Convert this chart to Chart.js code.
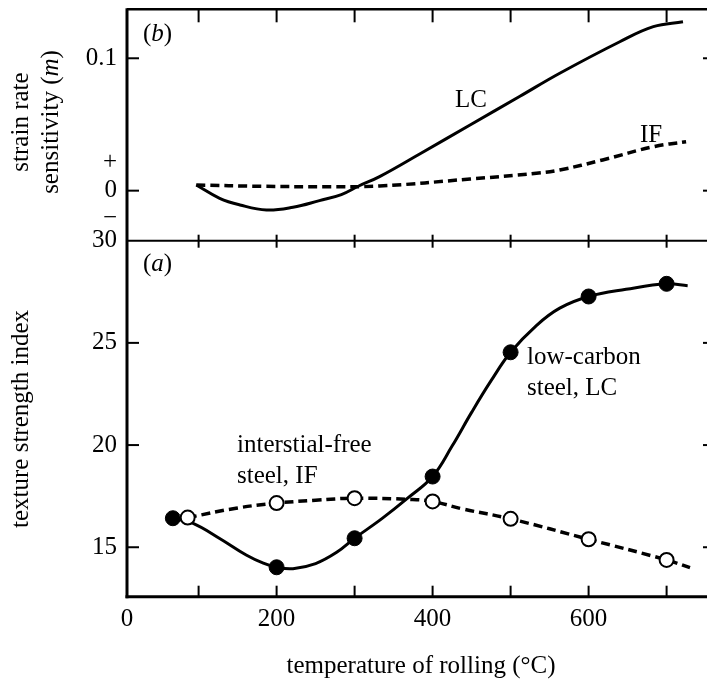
<!DOCTYPE html>
<html>
<head>
<meta charset="utf-8">
<script src="https://cdn.jsdelivr.net/npm/chart.js@4"></script>
<style>
html,body{margin:0;padding:0;background:#fff;}
#wrap{width:707px;height:683px;position:relative;}
canvas{display:block;}
</style>
</head>
<body>
<div id="wrap"><canvas id="c" width="707" height="683"></canvas></div>
<script>
// ---------- axes ----------
const X_MIN = 8.2, X_MAX = 751.8;
const xTickLabels = [0, 200, 400, 600];
const xTickMarks = [100, 200, 300, 400, 500, 600, 700];

const B_MIN = -0.0378, B_MAX = 0.137;          // panel (b)
const bTickValues = [0.1, 0.021, 0, -0.021];
const bTickLabels = ['0.1', '+', '0', '\u2212'];
const bTickMarks = [0.1, 0];

const A_MIN = 12.58, A_MAX = 30;               // panel (a)
const aTickValues = [30, 25, 20, 15];
const aTickMarks = [25, 20, 15];

// ---------- panel (b): strain rate sensitivity ----------
const bLCx = [97, 127, 153, 187, 221, 255, 283, 306, 332, 384, 448, 512, 563, 640, 683, 721];
const bLCy = [0.0043, -0.0058, -0.0108, -0.0146, -0.0125, -0.0075, -0.0030, 0.0037, 0.0106, 0.0279, 0.0496, 0.0713, 0.0887, 0.1125, 0.1239, 0.1276];
const bIFx = [97, 180, 260, 332, 448, 533, 563, 618, 683, 725];
const bIFy = [0.0043, 0.0033, 0.0030, 0.0035, 0.0088, 0.0131, 0.0156, 0.0232, 0.0332, 0.0370];

// ---------- panel (a): texture strength index ----------
const lcMarkX = [67, 200, 300, 400, 500, 600, 700];
const lcMarkY = [16.42, 14.02, 15.44, 18.46, 24.54, 27.27, 27.89];
const ifMarkX = [86, 200, 300, 400, 500, 600, 700];
const ifMarkY = [16.45, 17.16, 17.40, 17.24, 16.39, 15.39, 14.38];

const aLCx = [67, 93, 127, 161, 183, 200, 221, 250, 277, 300, 335, 368, 400, 425, 450, 475, 500, 533, 563, 600, 648, 700, 727];
const aLCy = [16.42, 16.17, 15.43, 14.62, 14.22, 14.02, 13.95, 14.20, 14.75, 15.44, 16.40, 17.40, 18.46, 19.95, 21.60, 23.15, 24.54, 25.85, 26.70, 27.27, 27.62, 27.89, 27.80];
const aIFx = [86, 148, 200, 250, 300, 371, 400, 439, 500, 600, 700, 730];
const aIFy = [16.45, 16.91, 17.16, 17.30, 17.40, 17.34, 17.24, 16.87, 16.39, 15.39, 14.38, 14.00];

const pts = (xs, ys) => xs.map((x, i) => ({x: x, y: ys[i]}));

const FONT = '"Liberation Serif", "Times New Roman", serif';
const F = (s, it) => (it ? 'italic ' : '') + s + 'px ' + FONT;

function drawParts(ctx, parts, x, y, align) {
  let total = 0;
  parts.forEach(p => { ctx.font = F(25, p.i); p.w = ctx.measureText(p.t).width; total += p.w; });
  let cx = align === 'center' ? x - total / 2 : x;
  ctx.textAlign = 'left';
  ctx.textBaseline = 'alphabetic';
  parts.forEach(p => { ctx.font = F(25, p.i); ctx.fillText(p.t, cx, y); cx += p.w; });
}
function drawRotated(ctx, parts, x, y) {
  ctx.save();
  ctx.translate(x, y);
  ctx.rotate(-Math.PI / 2);
  drawParts(ctx, parts, 0, 0, 'center');
  ctx.restore();
}
function line(ctx, x1, y1, x2, y2, w) {
  ctx.lineWidth = w;
  ctx.beginPath(); ctx.moveTo(x1, y1); ctx.lineTo(x2, y2); ctx.stroke();
}

const decor = {
  id: 'decor',
  afterDraw(chart) {
    const {ctx, chartArea: ca, scales} = chart;
    const xs = scales.x, yb = scales.yb, ya = scales.ya;
    const mid = yb.bottom;
    ctx.save();
    ctx.strokeStyle = '#000';
    ctx.fillStyle = '#000';
    ctx.lineCap = 'butt';
    // frame
    line(ctx, ca.left, ca.top - 1, ca.left, ca.bottom + 1.5, 3);
    line(ctx, ca.left, ca.top, ca.right, ca.top, 2.5);
    line(ctx, ca.left, mid, ca.right, mid, 2);
    line(ctx, ca.left - 1.5, ca.bottom, ca.right, ca.bottom, 3);
    // x tick marks
    xTickMarks.forEach(v => {
      const px = xs.getPixelForValue(v);
      line(ctx, px, ca.top, px, ca.top + 13, 2);
      line(ctx, px, mid - 6, px, mid + 7, 2);
      line(ctx, px, ca.bottom, px, ca.bottom - 11, 2);
    });
    // y tick marks
    bTickMarks.forEach(v => {
      const py = yb.getPixelForValue(v);
      line(ctx, ca.left, py, ca.left + 12, py, 2);
      line(ctx, ca.right - 4, py, ca.right, py, 2);
    });
    aTickMarks.forEach(v => {
      const py = ya.getPixelForValue(v);
      line(ctx, ca.left, py, ca.left + 12, py, 2);
      line(ctx, ca.right - 4, py, ca.right, py, 2);
    });
    // panel letters
    drawParts(ctx, [{t: '('}, {t: 'b', i: true}, {t: ')'}], 143, 41);
    drawParts(ctx, [{t: '('}, {t: 'a', i: true}, {t: ')'}], 143, 271);
    // annotations
    drawParts(ctx, [{t: 'LC'}], 455, 107);
    drawParts(ctx, [{t: 'IF'}], 640, 142);
    drawParts(ctx, [{t: 'low-carbon'}], 527, 364);
    drawParts(ctx, [{t: 'steel, LC'}], 527, 395);
    drawParts(ctx, [{t: 'interstial-free'}], 237, 452);
    drawParts(ctx, [{t: 'steel, IF'}], 237, 483);
    // axis titles
    drawParts(ctx, [{t: 'temperature of rolling (\u00B0C)'}], 421, 673, 'center');
    drawRotated(ctx, [{t: 'texture strength index'}], 28, 419);
    drawRotated(ctx, [{t: 'strain rate'}], 28, 122);
    drawRotated(ctx, [{t: 'sensitivity ('}, {t: 'm', i: true}, {t: ')'}], 58, 122);
    ctx.restore();
  }
};

const tickFont = {family: FONT, size: 25};

new Chart(document.getElementById('c'), {
  type: 'line',
  data: {
    datasets: [
      {label: 'IF markers', data: pts(ifMarkX, ifMarkY), yAxisID: 'ya', showLine: false,
       pointRadius: 7, pointHoverRadius: 7, pointBorderWidth: 2, pointBackgroundColor: '#fff', pointBorderColor: '#000', order: 0},
      {label: 'LC markers', data: pts(lcMarkX, lcMarkY), yAxisID: 'ya', showLine: false,
       pointRadius: 7.5, pointHoverRadius: 7.5, pointBorderWidth: 1, pointBackgroundColor: '#000', pointBorderColor: '#000', order: 1},
      {label: 'LC (a)', data: pts(aLCx, aLCy), yAxisID: 'ya', borderColor: '#000', borderWidth: 3,
       pointRadius: 0, tension: 0.4, fill: false, order: 2},
      {label: 'IF (a)', data: pts(aIFx, aIFy), yAxisID: 'ya', borderColor: '#000', borderWidth: 3.5,
       borderDash: [9, 5], pointRadius: 0, tension: 0.4, fill: false, order: 3},
      {label: 'LC (b)', data: pts(bLCx, bLCy), yAxisID: 'yb', borderColor: '#000', borderWidth: 3,
       pointRadius: 0, tension: 0.4, fill: false, order: 4},
      {label: 'IF (b)', data: pts(bIFx, bIFy), yAxisID: 'yb', borderColor: '#000', borderWidth: 3.5,
       borderDash: [9, 5], pointRadius: 0, tension: 0.4, fill: false, order: 5}
    ]
  },
  options: {
    responsive: false,
    animation: false,
    devicePixelRatio: 1,
    layout: {autoPadding: false, padding: {top: 9.3, left: 0, right: 0, bottom: 0}},
    plugins: {legend: {display: false}, tooltip: {enabled: false}, title: {display: false}},
    scales: {
      x: {
        type: 'linear', position: 'bottom', min: X_MIN, max: X_MAX,
        grid: {display: false, drawTicks: false}, border: {display: false},
        afterBuildTicks: s => { s.ticks = xTickLabels.map(v => ({value: Math.max(v, X_MIN)})); },
        ticks: {font: tickFont, color: '#000', padding: 8, maxRotation: 0, autoSkip: false,
                callback: (v, i) => String(xTickLabels[i])},
        afterFit: s => { s.height = 86.3; s.paddingLeft = 0; s.paddingRight = 0; }
      },
      ya: {
        type: 'linear', position: 'left', stack: 'panels', stackWeight: 356,
        min: A_MIN, max: A_MAX,
        grid: {display: false, drawTicks: false}, border: {display: false},
        afterBuildTicks: s => { s.ticks = aTickValues.map(v => ({value: v})); },
        ticks: {font: tickFont, color: '#000', padding: 10, autoSkip: false,
                callback: (v, i) => String(aTickValues[i])},
        afterFit: s => { s.width = 127; s.paddingTop = 0; s.paddingBottom = 0; }
      },
      yb: {
        type: 'linear', position: 'left', stack: 'panels', stackWeight: 231.4,
        min: B_MIN, max: B_MAX,
        grid: {display: false, drawTicks: false}, border: {display: false},
        afterBuildTicks: s => { s.ticks = bTickValues.map(v => ({value: v})); },
        ticks: {font: tickFont, color: '#000', padding: 10, autoSkip: false,
                callback: (v, i) => bTickLabels[i]},
        afterFit: s => { s.width = 127; s.paddingTop = 0; s.paddingBottom = 0; }
      }
    }
  },
  plugins: [decor]
});
</script>
</body>
</html>
